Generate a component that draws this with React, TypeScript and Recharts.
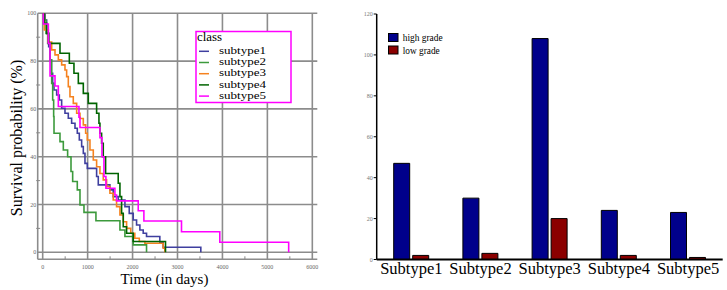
import React from 'react';
import { LineChart, Line, XAxis, YAxis, CartesianGrid, BarChart, Bar } from 'recharts';

// ---------- Survival curves (time in days, survival %) ----------
const subtype1: [number, number][] = [
  [0, 100], [52, 97.2], [89, 91.6], [133, 86], [163, 80.5], [193, 74.9], [222, 70.7], [252, 67.9],
  [311, 65.8], [370, 63.7], [422, 60.3], [496, 58.2], [570, 56.1], [644, 54], [719, 51.9], [770, 49.8],
  [815, 47], [867, 44.2], [904, 41.4], [941, 37.2], [993, 35.1], [1200, 31.7], [1237, 28.2], [1496, 26.1],
  [1570, 23.3], [1681, 21.9], [1830, 19.1], [1926, 16.3], [2015, 13.5], [2089, 11.4], [2163, 9.3],
  [2237, 8], [2311, 6.6], [2607, 4], [2681, 2.1], [3519, 0],
];
const subtype2: [number, number][] = [
  [0, 100], [37, 97.2], [74, 91.6], [111, 87.4], [163, 80.5], [200, 70.7], [222, 63.7], [244, 56.8],
  [252, 49.8], [385, 46.3], [459, 42.8], [555, 40], [630, 33.8], [667, 29.6], [770, 26.1], [830, 19.8],
  [919, 16.7], [1185, 13.2], [1719, 9.3], [1830, 6.6], [2015, 3.1], [2311, 0],
];
const subtype3: [number, number][] = [
  [0, 100], [37, 93], [126, 88], [200, 84.7], [274, 82.6], [348, 80.5], [422, 78.4], [496, 76.3],
  [533, 73.5], [570, 69.3], [607, 65.1], [681, 62.3], [756, 58.2], [830, 56], [904, 53.3], [956, 49.8],
  [993, 47], [1052, 42.8], [1126, 38.6], [1200, 35.8], [1274, 33], [1348, 30.3], [1422, 27.5],
  [1496, 24.7], [1570, 21.9], [1644, 19.1], [1719, 15.6], [1793, 12.8], [1867, 10], [1960, 8],
  [2050, 5.9], [2150, 4.5], [2274, 3.8], [2681, 1.7], [2718, 0],
];
const subtype4: [number, number][] = [
  [0, 100], [37, 95.8], [89, 91.6], [133, 87.4], [385, 83.3], [593, 79.1], [696, 74.9], [793, 70.7],
  [904, 66.5], [1015, 62.3], [1200, 58.2], [1252, 54], [1274, 49.8], [1311, 45.6], [1348, 40],
  [1400, 33], [1681, 28.9], [1719, 23.3], [1756, 16.3], [1793, 10.7], [1867, 8], [2015, 4.5], [2733, 0],
];
const subtype5: [number, number][] = [
  [0, 100], [15, 95.5], [126, 87.4], [163, 73.8], [274, 69.6], [348, 61], [807, 56.5], [830, 52.2],
  [1274, 48], [1319, 40], [1363, 31.7], [1407, 26.8], [1607, 24], [1644, 21.5], [2126, 17.4],
  [2252, 13.1], [3089, 8.6], [3941, 4.2], [5474, 0],
];

const seriesNames = ['subtype1', 'subtype2', 'subtype3', 'subtype4', 'subtype5'];
const seriesValues = [subtype1, subtype2, subtype3, subtype4, subtype5];
const seriesColors = ['#3f3f9f', '#3c9a3c', '#f5821f', '#006400', '#ff00ff'];

const xMajorTicks = [0, 1000, 2000, 3000, 4000, 5000, 6000];
const xMinorTicks = [500, 1500, 2500, 3500, 4500, 5500];
const yMajorTicks = [0, 20, 40, 60, 80, 100];
const yMinorTicks = [10, 30, 50, 70, 90];

// ---------- Bar chart ----------
const categories = ['Subtype1', 'Subtype2', 'Subtype3', 'Subtype4', 'Subtype5'];
const highGrade = [47, 30, 108, 24, 23];
const lowGrade = [2, 3, 20, 2, 1];
const barTicks = [0, 20, 40, 60, 80, 100, 120];

const SERIF = '"Liberation Serif", "DejaVu Serif", serif';
const GRID = '#8c8c8c';

const barData = categories.map((name, i) => ({ name, high: highGrade[i], low: lowGrade[i] }));
const lineData = seriesValues.map((arr) => arr.map(([t, s]) => ({ t, s })));

const X_MARGIN = 5;
const Y_MARGIN = 1.5;

const SurvXTick = (props: any) => {
  const { x, y, payload } = props;
  const v = payload.value;
  if (xMajorTicks.includes(v)) {
    return (
      <text x={x} y={y} dy="0.71em" textAnchor="middle" fontSize={6} fill="#666" fontFamily={SERIF}>
        {v}
      </text>
    );
  }
  const ay = y - X_MARGIN;
  return <line x1={x} x2={x} y1={ay} y2={ay - 3} stroke="#888" strokeWidth={1} />;
};

const SurvYTick = (props: any) => {
  const { x, y, payload } = props;
  const v = payload.value;
  if (yMajorTicks.includes(v)) {
    return (
      <text x={x} y={y} dy="0.355em" textAnchor="end" fontSize={6} fill="#666" fontFamily={SERIF}>
        {v}
      </text>
    );
  }
  const ax = x + Y_MARGIN;
  return <line x1={ax - 1.5} x2={ax + 2.5} y1={y} y2={y} stroke="#888" strokeWidth={1} />;
};

const SurvivalChart = () => (
  <LineChart width={330} height={290} margin={{ top: 13.3, right: 12.7, bottom: 18.7, left: 7.7 }}>
    <CartesianGrid
      stroke={GRID}
      strokeWidth={1.6}
      verticalValues={xMajorTicks}
      horizontalValues={yMajorTicks}
    />
    <XAxis
      type="number"
      dataKey="t"
      domain={[-111, 6111]}
      allowDataOverflow
      ticks={[...xMajorTicks, ...xMinorTicks].sort((a, b) => a - b)}
      interval={0}
      height={12}
      tickSize={0}
      tickMargin={X_MARGIN}
      tickLine={false}
      tick={SurvXTick}
      axisLine={{ stroke: GRID, strokeWidth: 1.6 }}
    />
    <YAxis
      type="number"
      domain={[-2.93, 100]}
      allowDataOverflow
      ticks={[...yMajorTicks, ...yMinorTicks].sort((a, b) => a - b)}
      interval={0}
      width={30}
      tickSize={0}
      tickMargin={Y_MARGIN}
      tickLine={false}
      tick={SurvYTick}
      axisLine={{ stroke: GRID, strokeWidth: 1.6 }}
    />
    <YAxis
      yAxisId="right"
      orientation="right"
      type="number"
      domain={[-2.93, 100]}
      width={0}
      tick={false}
      tickLine={false}
      axisLine={{ stroke: GRID, strokeWidth: 1.6 }}
    />
    {lineData.map((d, i) => (
      <Line
        key={seriesNames[i]}
        data={d}
        dataKey="s"
        name={seriesNames[i]}
        type="stepAfter"
        stroke={seriesColors[i]}
        strokeWidth={1.6}
        dot={false}
        activeDot={false}
        isAnimationActive={false}
      />
    ))}
  </LineChart>
);

const GradeChart = () => (
  <BarChart
    width={387}
    height={290}
    data={barData}
    margin={{ top: 14, right: 4.3, bottom: 0.5, left: 6.7 }}
    barGap={3}
    barSize={16}
  >
    <XAxis
      dataKey="name"
      height={30}
      interval={0}
      tickLine={false}
      tickSize={0}
      tickMargin={3}
      tick={{ fontSize: 16.5, fill: '#000', fontFamily: SERIF }}
      axisLine={{ stroke: '#000', strokeWidth: 1.8 }}
    />
    <XAxis
      xAxisId="top"
      orientation="top"
      dataKey="name"
      height={0}
      mirror
      tick={false}
      tickSize={3}
      tickLine={{ stroke: '#000' }}
      axisLine={{ stroke: '#000', strokeWidth: 1.5 }}
    />
    <YAxis
      domain={[0, 120]}
      ticks={barTicks}
      interval={0}
      width={30}
      tickSize={3}
      tickMargin={1}
      tick={{ fontSize: 6, fill: '#777', fontFamily: SERIF }}
      tickLine={{ stroke: '#000' }}
      axisLine={{ stroke: '#000', strokeWidth: 1.5 }}
    />
    <YAxis
      yAxisId="right"
      orientation="right"
      domain={[0, 120]}
      ticks={barTicks}
      interval={0}
      width={0}
      mirror
      tick={false}
      tickSize={3}
      tickLine={{ stroke: '#000' }}
      axisLine={{ stroke: '#000', strokeWidth: 1.5 }}
    />
    <Bar dataKey="high" name="high grade" fill="#00008b" stroke="#000" strokeWidth={1} isAnimationActive={false} />
    <Bar dataKey="low" name="low grade" fill="#8b0000" stroke="#000" strokeWidth={1} isAnimationActive={false} />
  </BarChart>
);

const LEG_STEP = 11.2;

const Overlay = () => (
  <svg width={727} height={290} style={{ position: 'absolute', left: 0, top: 0, pointerEvents: 'none' }}>
    {/* axis titles of the survival chart */}
    <text
      x={21.5}
      y={138}
      transform="rotate(-90 21.5 138)"
      textAnchor="middle"
      fontSize={16}
      fontFamily={SERIF}
      fill="#000"
    >
      Survival probability (%)
    </text>
    <text x={164.5} y={284} textAnchor="middle" fontSize={15} fontFamily={SERIF} fill="#000">
      Time (in days)
    </text>
    {/* survival legend */}
    <rect x={196} y={31.5} width={95} height={71} fill="#fff" stroke="#ff00ff" strokeWidth={1.5} />
    <text x={197} y={40.5} fontSize={11.5} fontFamily={SERIF} fill="#000" textLength={25} lengthAdjust="spacingAndGlyphs">
      class
    </text>
    {seriesNames.map((n, i) => (
      <g key={n}>
        <line x1={199} x2={209} y1={51.3 + i * LEG_STEP} y2={51.3 + i * LEG_STEP} stroke={seriesColors[i]} strokeWidth={1.5} />
        <text
          x={219}
          y={54 + i * LEG_STEP}
          fontSize={9.5}
          fontFamily={SERIF}
          fill="#000"
          textLength={47}
          lengthAdjust="spacingAndGlyphs"
        >
          {n}
        </text>
      </g>
    ))}
    {/* grade legend */}
    <rect x={388.5} y={33.5} width={9.5} height={8} fill="#00008b" stroke="#000" strokeWidth={1} />
    <text x={402.7} y={40.7} fontSize={11} fontFamily={SERIF} fill="#000" textLength={40} lengthAdjust="spacingAndGlyphs">
      high grade
    </text>
    <rect x={388.5} y={46} width={9.5} height={8} fill="#8b0000" stroke="#000" strokeWidth={1} />
    <text x={402.7} y={53.5} fontSize={11} fontFamily={SERIF} fill="#000" textLength={37} lengthAdjust="spacingAndGlyphs">
      low grade
    </text>
  </svg>
);

export default function App() {
  return (
    <div style={{ position: 'absolute', left: 0, top: 0, width: 727, height: 290, background: '#fff' }}>
      <div style={{ position: 'absolute', left: 0, top: 0 }}>
        <SurvivalChart />
      </div>
      <div style={{ position: 'absolute', left: 340, top: 0 }}>
        <GradeChart />
      </div>
      <Overlay />
    </div>
  );
}
